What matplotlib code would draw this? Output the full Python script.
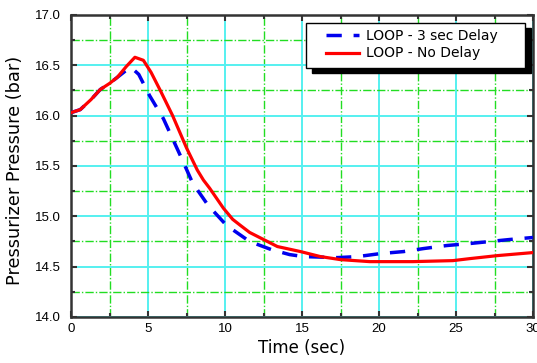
import matplotlib
matplotlib.use("Agg")
import matplotlib.pyplot as plt
from matplotlib.ticker import MultipleLocator, FormatStrFormatter
from matplotlib.patches import Rectangle

# Data
t_nodelay = [0, 0.6, 1.3, 1.9, 2.5, 3.0, 3.6, 4.15, 4.7, 5.2, 5.8, 6.6, 7.5, 8.2,
             8.6, 9.0, 9.9, 10.5, 11.0, 11.6, 12.5, 13.4, 14.9, 16.2, 17.5, 19.4,
             22.2, 24.8, 25.9, 27.7, 30]
p_nodelay = [16.03, 16.06, 16.16, 16.26, 16.32, 16.38, 16.49, 16.58, 16.55, 16.43,
             16.25, 16.00, 15.68, 15.46, 15.36, 15.28, 15.08, 14.97, 14.91, 14.84,
             14.77, 14.70, 14.65, 14.60, 14.57, 14.55, 14.55, 14.56, 14.58, 14.61,
             14.64]

t_delay = [0, 0.6, 1.3, 1.9, 2.5, 3.0, 3.5, 3.9, 4.4, 5.1, 6.0, 6.6, 7.2, 7.9, 8.9,
           10.1, 11.6, 13.0, 14.2, 15.1, 17.3, 18.6, 20.1, 21.6, 22.9, 24.4, 25.9,
           27.2, 28.5, 30]
p_delay = [16.03, 16.06, 16.16, 16.26, 16.32, 16.38, 16.44, 16.48, 16.41, 16.20,
           15.97, 15.77, 15.57, 15.33, 15.11, 14.91, 14.75, 14.67, 14.62, 14.60,
           14.59, 14.60, 14.63, 14.65, 14.68, 14.71, 14.73, 14.75, 14.77, 14.79]

label_delay = "LOOP - 3 sec Delay"
label_nodelay = "LOOP - No Delay"
xlabel = "Time (sec)"
ylabel = "Pressurizer Pressure (bar)"

plt.rcParams['font.family'] = ['Liberation Sans', 'DejaVu Sans']

W, H = 537, 363
fig = plt.figure(figsize=(W / 100, H / 100), dpi=100)
ax = fig.add_axes([71 / W, 1 - 317 / H, 462 / W, 302 / H])

ax.plot(t_delay, p_delay, color='#0000ee', lw=2.5, dashes=(4.4, 3.4),
        label=label_delay, zorder=3)
ax.plot(t_nodelay, p_nodelay, color='#ff0000', lw=2.3, label=label_nodelay, zorder=4)

ax.set_xlim(0, 30)
ax.set_ylim(14.0, 17.0)
ax.xaxis.set_major_locator(MultipleLocator(5))
ax.xaxis.set_minor_locator(MultipleLocator(2.5))
ax.yaxis.set_major_locator(MultipleLocator(0.5))
ax.yaxis.set_minor_locator(MultipleLocator(0.25))
ax.yaxis.set_major_formatter(FormatStrFormatter('%.1f'))

ax.grid(which='major', color='#55f0f0', lw=1.4, ls='-', zorder=1)
ax.grid(which='minor', color='#22dd22', lw=1.0, ls=(0, (6, 1.5, 1, 1.5)), zorder=1)
ax.set_axisbelow(True)

for s in ax.spines.values():
    s.set_color('#333333')
    s.set_linewidth(1.8)

ax.tick_params(which='both', direction='in', top=True, right=True, color='#333333',
               labelsize=9.5, width=1.5)
ax.tick_params(which='major', length=4)
ax.tick_params(which='minor', length=3)
ax.tick_params(axis='x', pad=4)
ax.tick_params(axis='y', pad=7.5)

ax.set_xlabel(xlabel, fontsize=12, family='DejaVu Sans', labelpad=3)
ax.set_ylabel(ylabel, fontsize=12.8, family='DejaVu Sans')
ax.yaxis.set_label_coords(-0.102, 0.485)

# legend box with solid black drop shadow (figure pixel coordinates)
bx0, by0, bx1, by1 = 306, 23, 525, 68
fig.patches.append(Rectangle(((bx0 + 6) / W, 1 - (by1 + 5) / H), (bx1 - bx0) / W,
                             (by1 - by0) / H, transform=fig.transFigure,
                             facecolor='black', edgecolor='black', zorder=9))
fig.patches.append(Rectangle((bx0 / W, 1 - by1 / H), (bx1 - bx0) / W, (by1 - by0) / H,
                             transform=fig.transFigure, facecolor='white',
                             edgecolor='black', lw=1.0, zorder=9.5))

leg = ax.legend(loc='upper left', bbox_to_anchor=(326 / W, 1 - 29 / H),
                bbox_transform=fig.transFigure, borderaxespad=0, borderpad=0,
                frameon=False, prop={'family': 'DejaVu Sans', 'size': 10},
                handlelength=2.35, handletextpad=0.55, labelspacing=0.25)
leg.set_zorder(10)
leg.set_figure(fig)
ax.legend_ = None
fig.legends.append(leg)

fig.savefig('out.png', dpi=100)
